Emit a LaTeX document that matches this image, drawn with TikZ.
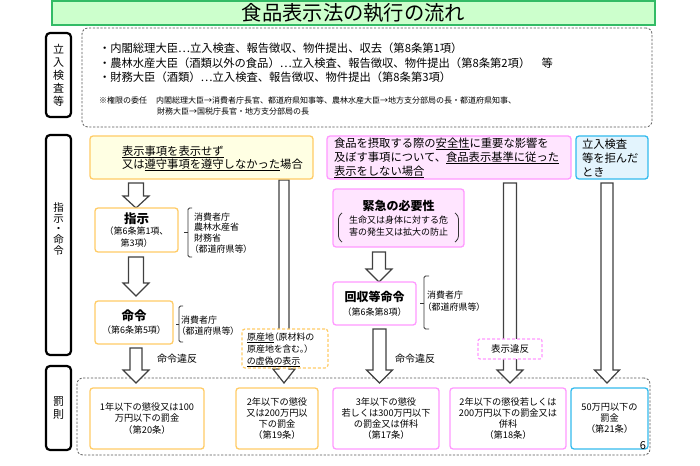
\documentclass[tikz,border=0pt]{standalone}
\usepackage{fontspec}
\setmainfont{Noto Sans CJK JP}
\newfontfamily\pfont{Noto Sans CJK JP}[RawFeature=+palt]
\definecolor{ttlfill}{HTML}{CCFFCC}
\definecolor{ttldraw}{HTML}{33BB66}
\definecolor{yfill}{HTML}{FFFFE3}
\definecolor{ydraw}{HTML}{FFCC66}
\definecolor{pfill}{HTML}{FFE5FF}
\definecolor{pdraw}{HTML}{FF99FF}
\definecolor{bfill}{HTML}{E3F4FD}
\definecolor{bdraw}{HTML}{33BBEE}
\definecolor{arrcol}{HTML}{404040}
\newcommand\myfs[2]{\fontsize{#1}{#2}\selectfont}
\newcommand\barrow[6]{%
  \draw[arrowbox] ({#1-#5},#2) -- ({#1+#5},#2) -- ({#1+#5},#3) -- ({#1+#6},#3)
    -- (#1,#4) -- ({#1-#6},#3) -- ({#1-#5},#3) -- cycle;}
\tikzset{
  tx/.style={inner sep=0pt, outer sep=0pt, text=black},
  lbl/.style={draw=black, line width=2.2pt, rounded corners=4pt, inner sep=0pt, align=center},
  dashbox/.style={draw=black!65, dash pattern=on 2.2pt off 1.6pt, line width=0.8pt, rounded corners=6pt, inner sep=0pt},
  ybox/.style={draw=ydraw, fill=yfill, line width=1.3pt, rounded corners=3pt, inner sep=0pt},
  pbox/.style={draw=pdraw, fill=pfill, line width=1.3pt, rounded corners=3pt, inner sep=0pt},
  bbox/.style={draw=bdraw, fill=bfill, line width=1.3pt, rounded corners=3pt, inner sep=0pt},
  ywbox/.style={draw=ydraw, fill=white, line width=1.3pt, rounded corners=3pt, inner sep=0pt, align=center},
  pwbox/.style={draw=pdraw, fill=white, line width=1.3pt, rounded corners=3pt, inner sep=0pt, align=center},
  bwbox/.style={draw=bdraw, fill=white, line width=1.3pt, rounded corners=3pt, inner sep=0pt, align=center},
  arrowbox/.style={draw=arrcol, fill=white, line width=1.2pt, line join=miter},
  brk/.style={draw=black!80, line width=0.8pt, rounded corners=1.5pt},
}
\begin{document}
\begin{tikzpicture}[x=1pt,y=-1pt]
\useasboundingbox[fill=white] (0,0) rectangle (700,465);

% title
\node[draw=ttldraw, fill=ttlfill, line width=1.5pt, minimum width=603pt, minimum height=24pt, inner sep=0pt, font=\myfs{20.3}{21}] (title) at (353.5,13) {食品表示法の執行の流れ};

% side labels
\node[lbl, minimum width=25pt, minimum height=84pt, font=\myfs{11}{13}] (lab1) at (58.5,75) {立\\入\\検\\査\\等};
\node[lbl, minimum width=25pt, minimum height=220pt] (lab2) at (58.5,245) {};
\node[tx, align=center, font=\myfs{10.5}{10.8}] (lab2t) at (58.5,229) {指\\示\\・\\命\\令};
\node[lbl, minimum width=25pt, minimum height=84pt, font=\myfs{11}{12.5}] (lab3) at (58.5,408) {罰\\則};

% dashed frames
\node[dashbox, minimum width=570pt, minimum height=99pt] (insp) at (367,77.5) {};
\node[dashbox, minimum width=573pt, minimum height=77pt] (penal) at (363.5,416.5) {};

% inspection text
\node[tx, anchor=west, font=\myfs{11.3}{12}] (b1) at (99,48) {・内閣総理大臣…立入検査、報告徴収、物件提出、収去（第8条第1項）};
\node[tx, anchor=west, font=\myfs{11.3}{12}] (b2) at (99,63) {・農林水産大臣（酒類以外の食品）…立入検査、報告徴収、物件提出（第8条第2項）　等};
\node[tx, anchor=west, font=\myfs{11.3}{12}] (b3) at (99,77) {・財務大臣（酒類）…立入検査、報告徴収、物件提出（第8条第3項）};
\node[tx, anchor=west, font=\myfs{8}{9}] (n1) at (99,100) {※権限の委任};
\node[tx, anchor=west, font=\myfs{8}{9}] (n2) at (156,100) {内閣総理大臣→消費者庁長官、都道府県知事等、農林水産大臣→地方支分部局の長・都道府県知事、};
\node[tx, anchor=west, font=\myfs{8}{9}] (n3) at (157,111) {財務大臣→国税庁長官・地方支分部局の長};

% block arrows (drawn under boxes)
\barrow{136}{183}{196}{208}{7.5}{13}
\barrow{136}{257}{283}{296}{7.5}{13}
\barrow{136}{348}{370}{383}{6}{13}
\barrow{284}{180}{369}{383}{5}{11}
\barrow{379}{252}{269}{282}{6.5}{13}
\barrow{379.5}{329}{370}{383}{6.5}{13}
\barrow{510}{183}{370}{383}{6.5}{13}
\barrow{607}{183}{370}{383}{6}{12.5}

% top condition boxes
\node[ybox, minimum width=223pt, minimum height=43pt] (ycase) at (201.5,157.5) {};
\node[tx, anchor=west, align=left, font=\myfs{11.3}{13}] (ycaset) at (122,158.5) {\underline{表示事項を表示せず}\\又は\underline{遵守事項を遵守しなかった}場合};
\node[pbox, minimum width=244pt, minimum height=43pt] (pcase) at (449,157.5) {};
\node[tx, anchor=west, align=left, font=\myfs{11.3}{14}] (pcaset) at (334,158) {食品を摂取する際の\underline{安全性}に重要な影響を\\及ぼす事項について、\underline{食品表示基準に従った}\\\underline{表示をしない場合}};
\node[bbox, minimum width=72pt, minimum height=43pt] (bcase) at (612,157.5) {};
\node[tx, anchor=west, align=left, font=\myfs{11.3}{14}] (bcaset) at (582,158) {立入検査\\等を拒んだ\\とき};

% instruction / order
\node[ywbox, minimum width=83pt, minimum height=44pt, font=\myfs{9}{11.3}] (shiji) at (136.5,230) {{\myfs{12.5}{12.5}\bfseries 指示}\\（第6条第1項、\\第3項）};
\draw[brk] (192,208) -- (188,208) -- (188,257) -- (192,257);
\draw[brk] (188,232.5) -- (184,232.5);
\node[tx, anchor=west, align=left, font=\myfs{9}{10.8}\pfont] (shijiorg) at (194,233) {消費者庁\\農林水産省\\財務省\\（都道府県等）};

\node[ywbox, minimum width=78pt, minimum height=43pt, font=\myfs{9}{13}] (meirei) at (134,322.5) {{\myfs{12.5}{12.5}\bfseries 命令}\\（第6条第5項）};
\draw[brk] (183,306) -- (179,306) -- (179,342) -- (183,342);
\draw[brk] (179,324) -- (175.5,324);
\node[tx, anchor=west, align=left, font=\myfs{9}{11}\pfont] (meireiorg) at (181,325.5) {消費者庁\\（都道府県等）};
\node[tx, font=\myfs{10}{11}] (ihan1) at (177,359) {命令違反};

% urgent / recall
\node[pbox, minimum width=131pt, minimum height=58pt] (kinkyu) at (398.5,218) {};
\node[tx, font=\myfs{12}{12}\bfseries] (kinkyut) at (398.5,206) {緊急の必要性};
\node[tx, align=center, font=\myfs{9}{11.5}] (kinkyud) at (398.5,226) {生命又は身体に対する危\\害の発生又は拡大の防止};
\draw[brk, rounded corners=3pt] (342,213) -- (338.5,216) -- (338.5,239) -- (342,242);
\draw[brk, rounded corners=3pt] (455,213) -- (458.5,216) -- (458.5,239) -- (455,242);

\node[pwbox, minimum width=83pt, minimum height=43pt, font=\myfs{9}{14}] (kaishu) at (374.5,303.5) {{\myfs{12}{12}\bfseries 回収等命令}\\（第6条第8項）};
\draw[brk] (429,276) -- (424,276) -- (424,329) -- (429,329);
\draw[brk] (424,303) -- (420,303);
\node[tx, anchor=west, align=left, font=\myfs{9}{11.5}\pfont] (kaishuorg) at (427,301) {消費者庁\\（都道府県等）};
\node[tx, font=\myfs{10}{11}] (ihan2) at (415,359) {命令違反};

% overlay dashed boxes on the long arrows
\node[draw=ydraw, fill=white, line width=1.2pt, dash pattern=on 3pt off 2pt, rounded corners=3pt, minimum width=86pt, minimum height=39pt, inner sep=0pt] (gensan) at (285,348.5) {};
\node[tx, anchor=west, align=left, font=\myfs{9}{12}\pfont] (gensant) at (247,350) {\underline{原産地}（原材料の\\原産地を含む。）\\\underline{の虚偽の表示}};
\node[draw=pdraw, fill=white, line width=1.2pt, dash pattern=on 3pt off 2pt, rounded corners=2pt, minimum width=64pt, minimum height=20pt, inner sep=0pt, font=\myfs{9.5}{10}] (hyoji) at (510,349) {表示違反};

% penalties
\node[ywbox, minimum width=114pt, minimum height=61pt, font=\myfs{9.2}{11.2}] (p1) at (147,418.5) {1年以下の懲役又は100\\万円以下の罰金\\（第20条）};
\node[ywbox, minimum width=82pt, minimum height=61pt, font=\myfs{9.2}{11.2}] (p2) at (277,418.5) {2年以下の懲役\\又は200万円以\\下の罰金\\（第19条）};
\node[pwbox, minimum width=106pt, minimum height=61pt, font=\myfs{9.2}{11.2}] (p3) at (386,418.5) {3年以下の懲役\\若しくは300万円以下\\の罰金又は併科\\（第17条）};
\node[pwbox, minimum width=116pt, minimum height=61pt, font=\myfs{9.2}{11.2}] (p4) at (508,418.5) {2年以下の懲役若しくは\\200万円以下の罰金又は\\併科\\（第18条）};
\node[bwbox, minimum width=77pt, minimum height=61pt, font=\myfs{9.2}{11.2}] (p5) at (609.5,418.5) {50万円以下の\\罰金\\（第21条）};

\node[tx, font=\myfs{11}{11}] (pageno) at (643,446) {6};
\end{tikzpicture}
\end{document}
